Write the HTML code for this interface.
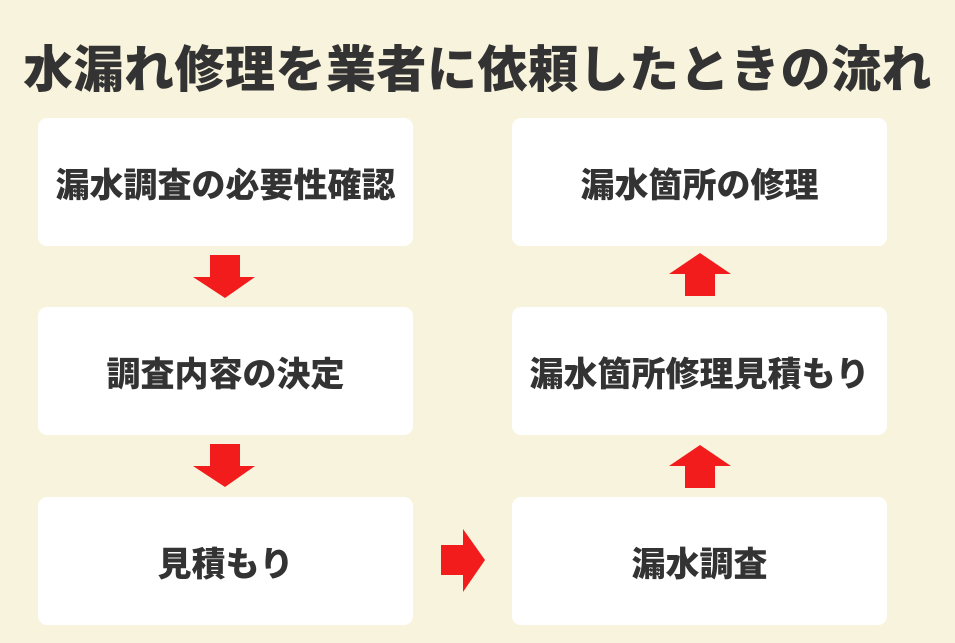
<!DOCTYPE html>
<html><head><meta charset="utf-8"><style>
body{margin:0;width:955px;height:643px;background:#f8f3dc;position:relative;overflow:hidden;font-family:"Liberation Sans","Noto Sans CJK JP",sans-serif;color:#333;}
.t{position:absolute;left:0;width:955px;top:36px;text-align:center;font-size:50px;font-weight:900;line-height:68px;letter-spacing:0.5px;}
.b{position:absolute;background:#fff;border-radius:9px;width:375px;height:128px;display:flex;align-items:center;justify-content:center;font-size:34px;font-weight:900;}
svg{position:absolute;left:0;top:0}
</style></head><body>
<div class="t">水漏れ修理を業者に依頼したときの流れ</div>
<div class="b" style="left:38px;top:118px">漏水調査の必要性確認</div>
<div class="b" style="left:38px;top:307px">調査内容の決定</div>
<div class="b" style="left:38px;top:497px">見積もり</div>
<div class="b" style="left:512px;top:118px">漏水箇所の修理</div>
<div class="b" style="left:512px;top:307px">漏水箇所修理見積もり</div>
<div class="b" style="left:512px;top:497px">漏水調査</div>
<svg width="955" height="643">
<g fill="#f21c1c">
<polygon points="210,255 240,255 240,277 255,277 225,298 193,277 210,277"/>
<polygon points="210,444 240,444 240,466 255,466 225,487 193,466 210,466"/>
<polygon points="441,545 463,545 463,529 485,560 463,592 463,575 441,575"/>
<polygon points="685,296 715,296 715,274 731,274 700,253 669,274 685,274"/>
<polygon points="685,488 715,488 715,466 731,466 700,445 669,466 685,466"/>
</g></svg>
</body></html>
